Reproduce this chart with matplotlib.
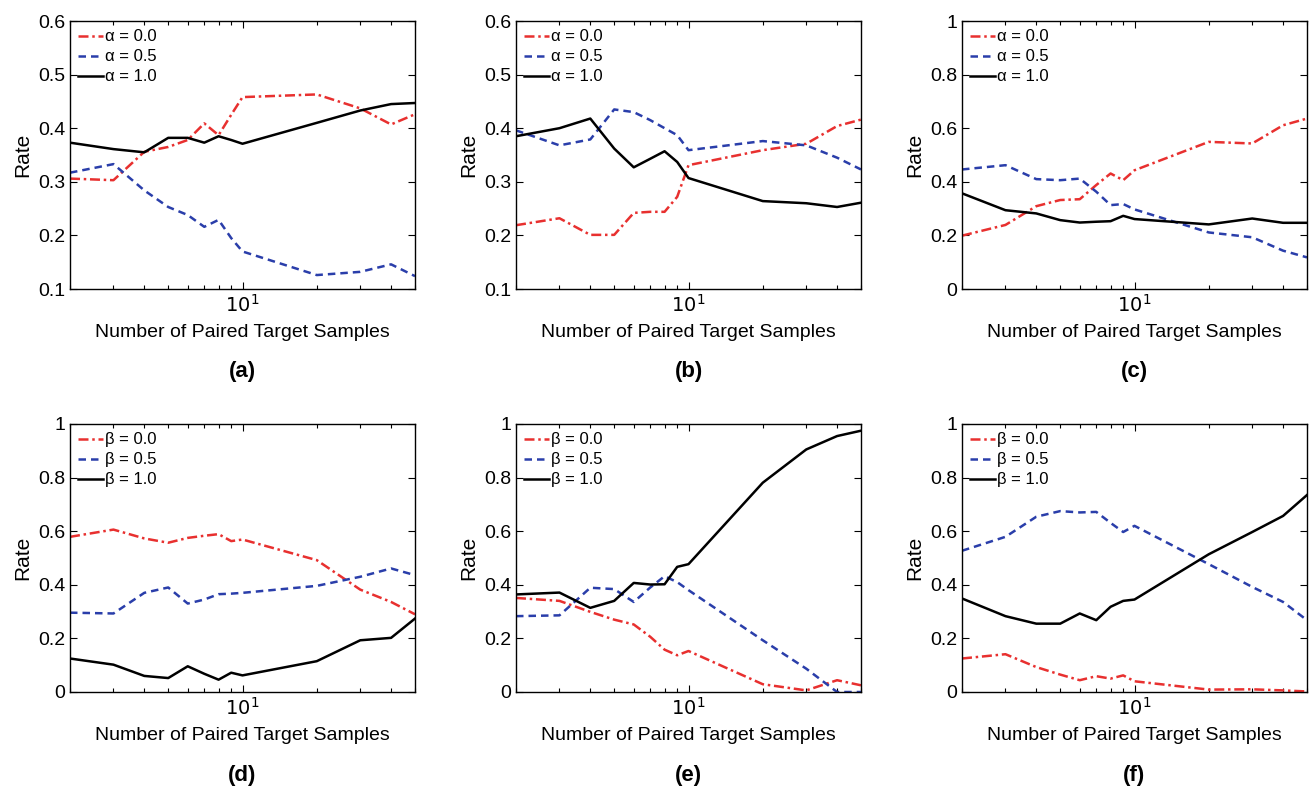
import numpy as np
import matplotlib
matplotlib.use('Agg')
import matplotlib.pyplot as plt
from matplotlib.ticker import FixedLocator, FuncFormatter, LogLocator, NullFormatter

plt.rcParams['font.family'] = ['Liberation Sans', 'DejaVu Sans']

# number of paired target samples
n_samples = [2, 3, 4, 5, 6, 7, 8, 9, 10, 20, 30, 40, 50]

# (a)
a_00 = [0.306, 0.303, 0.356, 0.365, 0.378, 0.409, 0.387, 0.425, 0.458, 0.463, 0.437, 0.407, 0.426]
a_05 = [0.317, 0.333, 0.284, 0.253, 0.238, 0.216, 0.229, 0.195, 0.170, 0.126, 0.132, 0.146, 0.124]
a_10 = [0.373, 0.361, 0.355, 0.382, 0.382, 0.373, 0.385, 0.378, 0.371, 0.410, 0.433, 0.445, 0.447]
# (b)
b_00 = [0.219, 0.232, 0.201, 0.201, 0.242, 0.244, 0.244, 0.272, 0.331, 0.359, 0.371, 0.404, 0.416]
b_05 = [0.396, 0.368, 0.379, 0.435, 0.430, 0.415, 0.400, 0.387, 0.359, 0.376, 0.368, 0.345, 0.323]
b_10 = [0.385, 0.400, 0.418, 0.362, 0.327, 0.343, 0.357, 0.337, 0.307, 0.264, 0.260, 0.253, 0.261]
# (c)
c_00 = [0.199, 0.239, 0.309, 0.332, 0.335, 0.388, 0.431, 0.406, 0.443, 0.549, 0.543, 0.611, 0.636]
c_05 = [0.446, 0.462, 0.410, 0.406, 0.412, 0.363, 0.313, 0.317, 0.297, 0.211, 0.193, 0.143, 0.118]
c_10 = [0.357, 0.294, 0.282, 0.257, 0.248, 0.251, 0.253, 0.273, 0.261, 0.241, 0.263, 0.247, 0.247]
# (d)
d_00 = [0.579, 0.606, 0.573, 0.557, 0.575, 0.583, 0.589, 0.563, 0.569, 0.492, 0.382, 0.336, 0.290]
d_05 = [0.296, 0.293, 0.370, 0.390, 0.330, 0.345, 0.365, 0.367, 0.370, 0.396, 0.430, 0.461, 0.436]
d_10 = [0.125, 0.102, 0.060, 0.052, 0.096, 0.068, 0.046, 0.072, 0.062, 0.115, 0.193, 0.202, 0.274]
# (e)
e_00 = [0.351, 0.340, 0.299, 0.270, 0.252, 0.206, 0.158, 0.137, 0.153, 0.029, 0.006, 0.044, 0.025]
e_05 = [0.283, 0.286, 0.389, 0.384, 0.336, 0.390, 0.432, 0.410, 0.380, 0.193, 0.087, 0.000, 0.000]
e_10 = [0.364, 0.371, 0.314, 0.340, 0.407, 0.401, 0.402, 0.467, 0.477, 0.781, 0.905, 0.955, 0.975]
# (f)
f_00 = [0.125, 0.141, 0.093, 0.065, 0.044, 0.059, 0.050, 0.062, 0.040, 0.009, 0.010, 0.006, 0.002]
f_05 = [0.527, 0.579, 0.654, 0.675, 0.670, 0.672, 0.631, 0.597, 0.620, 0.477, 0.392, 0.336, 0.268]
f_10 = [0.349, 0.283, 0.255, 0.255, 0.293, 0.268, 0.318, 0.340, 0.345, 0.514, 0.597, 0.657, 0.735]

panels = [
    ('(a)', 'α', (a_00, a_05, a_10), (0.1, 0.6), [0.1, 0.2, 0.3, 0.4, 0.5, 0.6]),
    ('(b)', 'α', (b_00, b_05, b_10), (0.1, 0.6), [0.1, 0.2, 0.3, 0.4, 0.5, 0.6]),
    ('(c)', 'α', (c_00, c_05, c_10), (0, 1), [0, 0.2, 0.4, 0.6, 0.8, 1]),
    ('(d)', 'β', (d_00, d_05, d_10), (0, 1), [0, 0.2, 0.4, 0.6, 0.8, 1]),
    ('(e)', 'β', (e_00, e_05, e_10), (0, 1), [0, 0.2, 0.4, 0.6, 0.8, 1]),
    ('(f)', 'β', (f_00, f_05, f_10), (0, 1), [0, 0.2, 0.4, 0.6, 0.8, 1]),
]
weights = ['0.0', '0.5', '1.0']
styles = [('#e8302f', (0, (4, 1.5, 1, 1.5))), ('#2a3eaa', (0, (3, 2))), ('black', '-')]

W, H = 1313, 787
fig = plt.figure(figsize=(W / 100, H / 100), dpi=100)
lefts = [70, 516, 962]
tops = [21, 424]
aw, ah = 345, 268

for i, (tag, sym, series, ylim, yticks) in enumerate(panels):
    row, col = divmod(i, 3)
    x0 = lefts[col]
    y1 = tops[row] + ah
    ax = fig.add_axes([x0 / W, 1 - y1 / H, aw / W, ah / H])
    for ys, w, (c, ls) in zip(series, weights, styles):
        ax.plot(n_samples, ys, color=c, linestyle=ls, lw=1.8, label=f'{sym} = {w}')
    ax.set_xscale('log')
    ax.set_xlim(2, 50)
    ax.set_ylim(*ylim)
    ax.xaxis.set_major_locator(FixedLocator([10]))
    ax.xaxis.set_major_formatter(FuncFormatter(lambda v, p: r'$10^1$'))
    ax.xaxis.set_minor_locator(LogLocator(base=10, subs=np.arange(2, 10)))
    ax.xaxis.set_minor_formatter(NullFormatter())
    ax.set_yticks(yticks)
    ax.yaxis.set_major_formatter(FuncFormatter(lambda v, p: f'{v:g}'))
    ax.tick_params(which='both', direction='in', top=True, right=True, labelsize=14)
    ax.tick_params(which='major', length=5, width=0.8)
    ax.tick_params(which='minor', length=3, width=0.8)
    for s in ax.spines.values():
        s.set_linewidth(1.0)
    ax.set_ylabel('Rate', fontsize=15, labelpad=4)
    ax.set_xlabel('Number of Paired Target Samples', fontsize=14, labelpad=6)
    ax.legend(loc='upper left', frameon=False, fontsize=12, handlelength=1.5,
              handletextpad=0.1, labelspacing=0.3, borderaxespad=0.3, borderpad=0.2)
    fig.text((x0 + aw / 2) / W, 1 - (y1 + 83) / H, tag, ha='center', va='center',
             fontsize=16, fontweight='bold')

fig.savefig('out.png', dpi=100)
